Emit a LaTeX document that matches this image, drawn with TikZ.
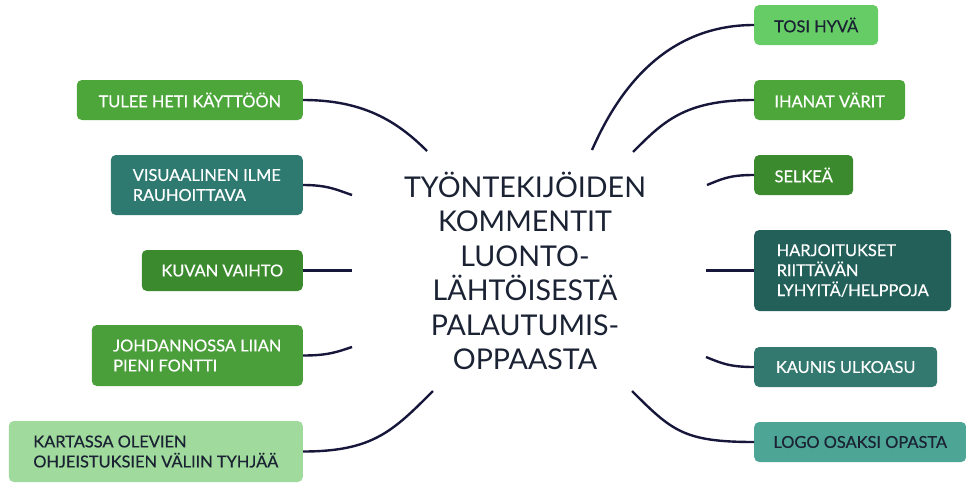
\documentclass[tikz,border=0pt]{standalone}
\usepackage{fontspec}
\setmainfont{Lato}
\newfontfamily\boxfont[FakeBold=0.5]{Lato}
\definecolor{lnk}{HTML}{16173A}
\definecolor{gmid}{HTML}{4CA63A}
\definecolor{gdark}{HTML}{3B8A2E}
\definecolor{gjoh}{HTML}{4A9F3A}
\definecolor{glight}{HTML}{A0DA9C}
\definecolor{gtosi}{HTML}{66CC66}
\definecolor{tvis}{HTML}{2E7A70}
\definecolor{tharj}{HTML}{23605A}
\definecolor{tkau}{HTML}{33796F}
\definecolor{tlogo}{HTML}{4DA596}
\definecolor{darktxt}{HTML}{1A2233}
\tikzset{
  box/.style={rounded corners=5pt, inner xsep=0pt, inner ysep=0pt, align=left,
    font=\boxfont\fontsize{16.4}{20}\selectfont, text=white},
  darkbox/.style={box, text=darktxt},
  link/.style={draw=lnk, line width=2.4pt},
}
\begin{document}
\begin{tikzpicture}[x=1pt,y=-1pt]
\useasboundingbox (0,0) rectangle (966,482);
% center
\node[align=center, text=darktxt, font=\fontsize{28.6}{34.5}\selectfont] (ctr) at (525,271)
  {TYÖNTEKIJÖIDEN\\KOMMENTIT\\LUONTO-\\LÄHTÖISESTÄ\\PALAUTUMIS-\\OPPAASTA};
% left boxes
\node[box, fill=gmid, minimum width=226pt, minimum height=40pt, anchor=east] (tulee) at (303,100) {TULEE HETI KÄYTTÖÖN};
\node[box, fill=tvis, minimum width=192pt, minimum height=60pt, anchor=east] (visu) at (303,185) {VISUAALINEN ILME\\RAUHOITTAVA};
\node[box, fill=gdark, minimum width=161pt, minimum height=41pt, anchor=east] (kuvan) at (303,270.5) {KUVAN VAIHTO};
\node[box, fill=gjoh, minimum width=211pt, minimum height=61pt, anchor=east] (johd) at (303,355.5) {JOHDANNOSSA LIIAN\\PIENI FONTTI};
\node[darkbox, fill=glight, minimum width=294pt, minimum height=61pt, anchor=east] (kart) at (303,451.5) {KARTASSA OLEVIEN\\OHJEISTUKSIEN VÄLIIN TYHJÄÄ};
% right boxes
\node[darkbox, fill=gtosi, minimum width=124pt, minimum height=40pt, anchor=west] (tosi) at (754,25) {TOSI HYVÄ};
\node[box, fill=gmid, minimum width=151pt, minimum height=40pt, anchor=west] (ihanat) at (754,100) {IHANAT VÄRIT};
\node[box, fill=gdark, minimum width=99pt, minimum height=40pt, anchor=west] (selkea) at (754,175) {SELKEÄ};
\node[box, fill=tharj, minimum width=197pt, minimum height=81pt, anchor=west] (harj) at (754,270.5) {HARJOITUKSET\\RIITTÄVÄN\\LYHYITÄ/HELPPOJA};
\node[box, fill=tkau, minimum width=183pt, minimum height=40pt, anchor=west] (kaunis) at (754,367) {KAUNIS ULKOASU};
\node[darkbox, fill=tlogo, minimum width=212pt, minimum height=40pt, anchor=west] (logo) at (754,442) {LOGO OSAKSI OPASTA};
% connector ends
\coordinate (e1) at (427,151);
\coordinate (e2) at (352,195);
\coordinate (e3) at (352,270.5);
\coordinate (e4) at (352,347);
\coordinate (e5) at (433,391);
\coordinate (f1) at (592,150);
\coordinate (f2) at (633,152);
\coordinate (f3) at (707,185);
\coordinate (f4) at (706,270.5);
\coordinate (f5) at (706,357);
\coordinate (f6) at (632,391);
% connectors
\draw[link] (tulee.east) .. controls +(60,0) and +(-30,-30) .. (e1);
\draw[link] (visu.east) .. controls +(25,0) and +(-15,-5) .. (e2);
\draw[link] (kuvan.east) -- (e3);
\draw[link] (johd.east) .. controls +(25,0) and +(-15,5) .. (e4);
\draw[link] (kart.east) .. controls +(70,0) and +(-40,40) .. (e5);
\draw[link] (tosi.west) .. controls +(-95,0) and +(22,-50) .. (f1);
\draw[link] (ihanat.west) .. controls +(-70,0) and +(30,-30) .. (f2);
\draw[link] (selkea.west) .. controls +(-25,0) and +(15,-6) .. (f3);
\draw[link] (harj.west) -- (f4);
\draw[link] (kaunis.west) .. controls +(-25,0) and +(15,6) .. (f5);
\draw[link] (logo.west) .. controls +(-70,0) and +(40,40) .. (f6);
\end{tikzpicture}
\end{document}
